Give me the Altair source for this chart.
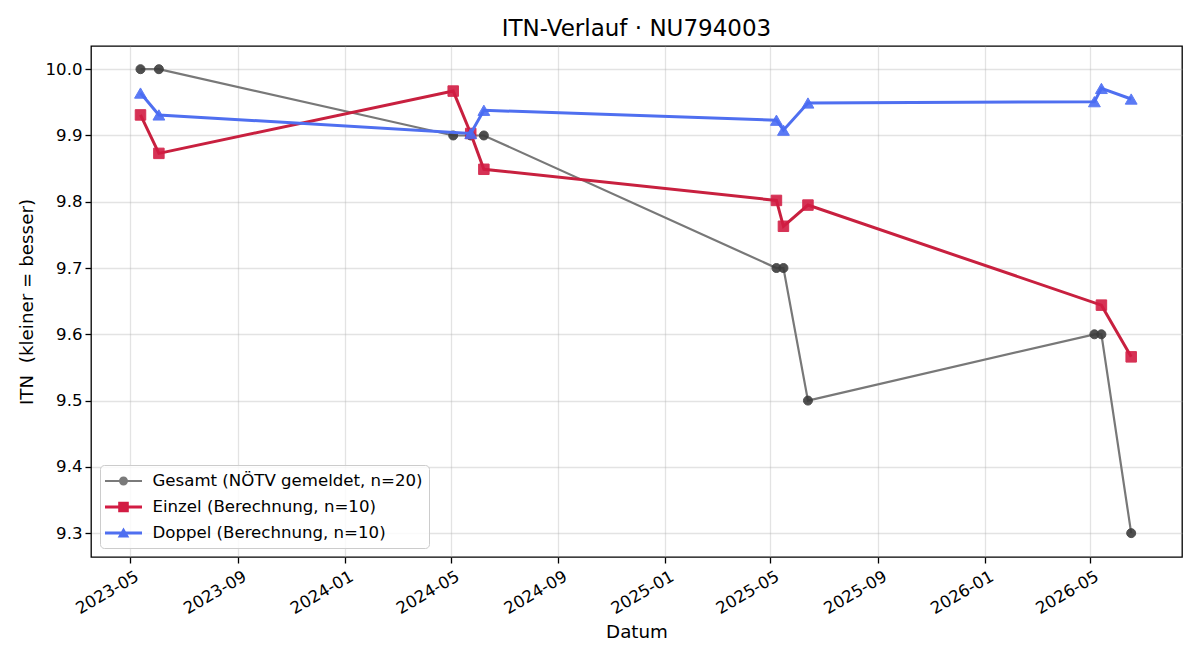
import altair as alt
import pandas as pd

# Series labels (legend order)
series_names = [
    "Gesamt (NÖTV gemeldet, n=20)",
    "Einzel (Berechnung, n=10)",
    "Doppel (Berechnung, n=10)",
]

# Gesamt: reported ITN
gesamt_dates = ["2023-05-13", "2023-06-03", "2024-05-04", "2024-05-24", "2024-06-08",
                "2025-05-08", "2025-05-16", "2025-06-13", "2026-05-06", "2026-05-14",
                "2026-06-17"]
gesamt_itn = [10.0, 10.0, 9.9, 9.9, 9.9, 9.7, 9.7, 9.5, 9.6, 9.6, 9.3]

# Einzel: computed singles ITN
einzel_dates = ["2023-05-13", "2023-06-03", "2024-05-04", "2024-05-24", "2024-06-08",
                "2025-05-08", "2025-05-16", "2025-06-13", "2026-05-14", "2026-06-17"]
einzel_itn = [9.931, 9.873, 9.967, 9.903, 9.849, 9.802, 9.763, 9.795, 9.644, 9.566]

# Doppel: computed doubles ITN
doppel_dates = ["2023-05-13", "2023-06-03", "2024-05-24", "2024-06-08", "2025-05-08",
                "2025-05-16", "2025-06-13", "2026-05-06", "2026-05-14", "2026-06-17"]
doppel_itn = [9.964, 9.931, 9.903, 9.938, 9.923, 9.908, 9.949, 9.951, 9.971, 9.955]

y_ticks = [9.3, 9.4, 9.5, 9.6, 9.7, 9.8, 9.9, 10.0]
x_tick_months = [(2023, 5), (2023, 9), (2024, 1), (2024, 5), (2024, 9),
                 (2025, 1), (2025, 5), (2025, 9), (2026, 1), (2026, 5)]

# Styling per series
line_colors = ["#787878", "#c8203f", "#4f6ff0"]
marker_colors = ["#3c3c3c", "#d21c43", "#4a6cf4"]
marker_shapes = ["circle", "square", "triangle-up"]
marker_sizes = [81, 110, 140]
line_widths = [2.2, 3.0, 3.0]

# Legend handles: a short line with the series marker on it
legend_colors = ["#7a7a7a", "#d21c43", "#4f6ff0"]
legend_paths = [
    "M-1.85,-0.11H1.85V0.11H-1.85Z"
    "M0.45,0A0.45,0.45,0,1,1,-0.45,0A0.45,0.45,0,1,1,0.45,0Z",
    "M-1.85,-0.15H1.85V0.15H-1.85Z"
    "M-0.53,-0.53H0.53V0.53H-0.53Z",
    "M-1.85,-0.15H1.85V0.15H-1.85Z"
    "M0,-0.55L0.58,0.45H-0.58Z",
]

frames = []
for name, dates, vals in zip(series_names,
                             [gesamt_dates, einzel_dates, doppel_dates],
                             [gesamt_itn, einzel_itn, doppel_itn]):
    frames.append(pd.DataFrame({"Datum": dates, "ITN": vals, "Serie": name}))
df = pd.concat(frames, ignore_index=True)

font = "DejaVu Sans"

x_enc = alt.X(
    "Datum:T",
    scale=alt.Scale(
        type="utc",
        domain=[alt.DateTime(year=2023, month=3, date=17, hours=12, utc=True),
                alt.DateTime(year=2026, month=8, date=14, utc=True)],
        nice=False,
    ),
    axis=alt.Axis(
        values=[alt.DateTime(year=y, month=m, date=1, utc=True) for y, m in x_tick_months],
        format="%Y-%m",
        labelAngle=-30,
        labelAlign="right",
        labelBaseline="top",
        labelOffset=3,
        labelPadding=5,
        labelFlush=False,
        labelOverlap=False,
        titlePadding=6,
    ),
    title="Datum",
)
y_enc = alt.Y(
    "ITN:Q",
    scale=alt.Scale(domain=[9.264, 10.035], nice=False, zero=False),
    axis=alt.Axis(values=y_ticks, format=".1f", labelPadding=3,
                  labelFlush=False, titlePadding=9),
    title="ITN\u00a0 (kleiner = besser)",
)

layers = []
for name, lc, mc, shp, ms, lw in zip(series_names, line_colors, marker_colors,
                                       marker_shapes, marker_sizes, line_widths):
    base = alt.Chart(df).transform_filter(alt.datum.Serie == name)
    layers.append(base.mark_line(color=lc, strokeWidth=lw).encode(x=x_enc, y=y_enc))
    layers.append(
        base.mark_point(filled=True, shape=shp, size=ms, color=mc, opacity=0.9,
                        stroke=mc, strokeWidth=1)
        .encode(x=x_enc, y=y_enc)
    )

legend_props = dict(
    title=None,
    orient="bottom-left",
    offset=9,
    fillColor="rgba(255,255,255,0.8)",
    strokeColor="#cccccc",
    cornerRadius=4,
    padding=6,
    symbolSize=400,
    symbolOffset=7.5,
    symbolOpacity=1,
    symbolStrokeWidth=0,
    labelOffset=19,
    rowPadding=7,
    labelFont=font,
    labelFontSize=16.6,
    labelColor="black",
    labelLimit=500,
)

legend_layer = alt.Chart(df).mark_point(filled=True, opacity=0).encode(
    x=x_enc,
    y=y_enc,
    color=alt.Color("Serie:N", scale=alt.Scale(domain=series_names, range=legend_colors),
                    legend=alt.Legend(**legend_props)),
    shape=alt.Shape("Serie:N", scale=alt.Scale(domain=series_names, range=legend_paths),
                    legend=alt.Legend(**legend_props)),
)

chart = (
    alt.layer(legend_layer, *layers)
    .properties(
        width=1091,
        height=511,
        title=alt.TitleParams("ITN-Verlauf · NU794003", font=font, fontSize=23,
                              fontWeight="normal", color="black", anchor="middle",
                              offset=5),
        autosize=alt.AutoSizeParams(type="none"),
        padding={"left": 91, "top": 46, "right": 18, "bottom": 103},
        background="white",
    )
    .configure_view(stroke="black", strokeWidth=1.3)
    .configure_axis(
        domain=False,
        tickColor="black",
        tickSize=6,
        tickWidth=1.3,
        labelFont=font,
        labelFontSize=16.6,
        labelColor="black",
        titleFont=font,
        titleFontSize=18.3,
        titleFontWeight="normal",
        titleColor="black",
        gridColor="#b0b0b0",
        gridOpacity=0.35,
        gridWidth=1.3,
    )
)

chart.save("out.html", embed_options={"renderer": "svg", "actions": False})
